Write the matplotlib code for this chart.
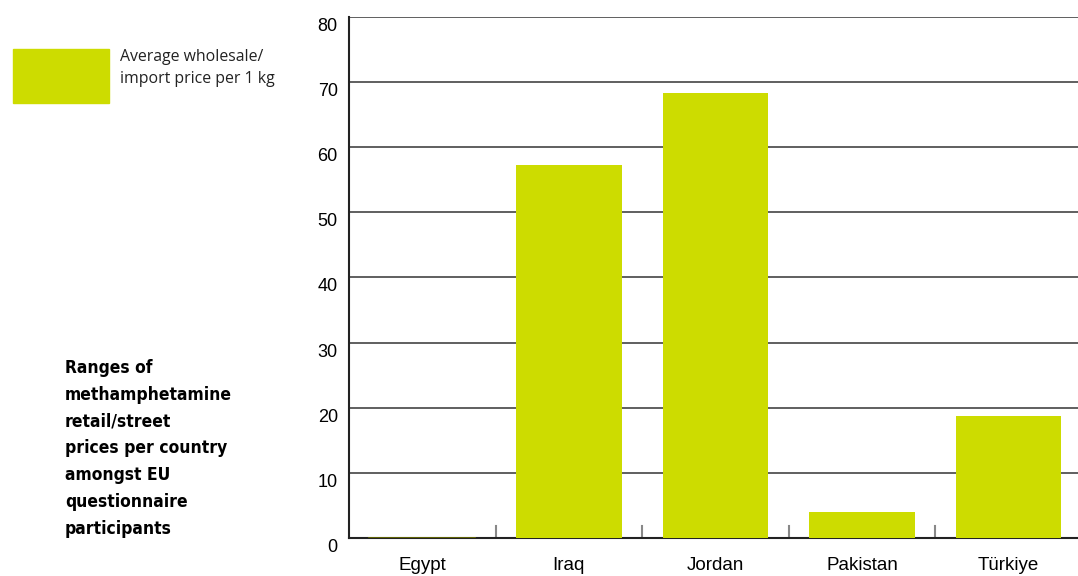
import matplotlib.pyplot as plt
import matplotlib.patches as mpatches
import matplotlib.transforms as mtransforms

countries = ['Egypt', 'Iraq', 'Jordan', 'Pakistan', 'Türkiye']
wholesale_price = [0, 57.3, 68.4, 4.0, 18.7]
y_ticks = [0, 10, 20, 30, 40, 50, 60, 70, 80]

lime = '#cddc00'

fig = plt.figure(figsize=(10.78, 5.76), dpi=100)
ax = fig.add_axes([0.3237, 0.066, 0.68, 0.9045])

x = list(range(len(countries)))
ax.bar(x, wholesale_price, width=0.72, color=lime, zorder=3)
# thin baseline for zero-valued bars
for xi, v in zip(x, wholesale_price):
    if v == 0:
        ax.plot([xi - 0.36, xi + 0.36], [0, 0], color='#6b7000', lw=1.2, zorder=4)

ax.set_xlim(-0.5, len(countries) - 0.5)
ax.set_ylim(0, 80)
ax.set_yticks(y_ticks)
ax.set_yticklabels([str(t) for t in y_ticks], fontsize=13, family='Liberation Sans',
                   va='top')
ax.set_xticks(x)
ax.set_xticklabels(countries, fontsize=13.5, family='Liberation Sans')
ax.tick_params(axis='x', length=0, pad=14)
ax.tick_params(axis='y', length=0, pad=8)
shift = mtransforms.ScaledTranslation(0, -1 / 100, fig.dpi_scale_trans)
for lab in ax.get_yticklabels():
    lab.set_transform(lab.get_transform() + shift)

# separator ticks between categories
for b in [i + 0.5 for i in x[:-1]]:
    ax.plot([b, b], [0, 1.8], color='#888888', lw=1.5, zorder=2)

for t in y_ticks[1:]:
    ax.axhline(t, color='#444444', lw=1.2, zorder=1)

for s in ['top', 'right']:
    ax.spines[s].set_visible(False)
ax.spines['left'].set_color('#222222')
ax.spines['bottom'].set_color('#222222')
ax.spines['left'].set_linewidth(1.5)
ax.spines['bottom'].set_linewidth(1.5)

# legend swatch
fig.patches.append(mpatches.Rectangle((13 / 1078, 1 - 103 / 576), 96 / 1078, 54 / 576,
                                      transform=fig.transFigure, color=lime))
fig.text(120 / 1078, 1 - 68 / 576, 'Average wholesale/\nimport price per 1 kg',
         fontsize=11.4, family='Open Sans', va='center', ha='left', linespacing=1.5,
         color='#222222')

fig.text(65 / 1078, 1 - 359 / 576,
         'Ranges of\nmethamphetamine\nretail/street\nprices per country\namongst EU\nquestionnaire\nparticipants',
         fontsize=12.5, family='DejaVu Sans', stretch='condensed', weight='bold',
         va='top', ha='left', linespacing=1.63)

fig.savefig('out.png', dpi=100)
